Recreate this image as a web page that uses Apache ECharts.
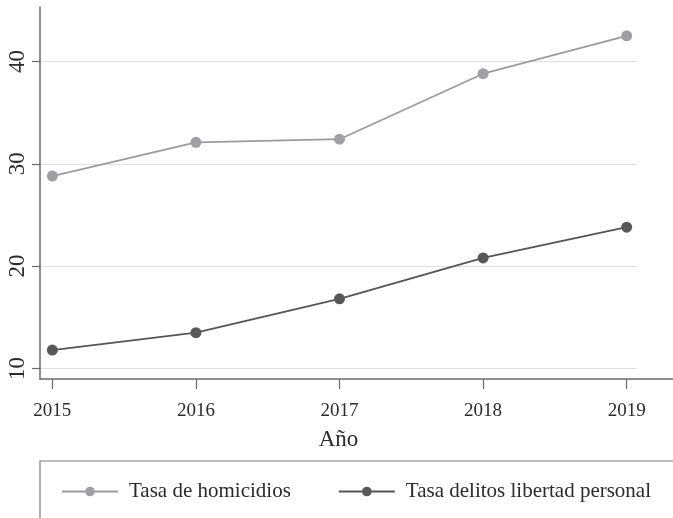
<!DOCTYPE html>
<html>
<head>
<meta charset="utf-8">
<script src="https://cdn.jsdelivr.net/npm/echarts@6/dist/echarts.min.js"></script>
<style>
  html, body { margin: 0; padding: 0; background: #ffffff; }
  #chart { width: 673px; height: 518px; }
</style>
</head>
<body>
<div id="chart"></div>
<script>
// Years on the horizontal axis
const years = [2015, 2016, 2017, 2018, 2019];
// Rates per year
const homicidios = [28.8, 32.1, 32.4, 38.8, 42.5];
const delitosLibertad = [11.8, 13.5, 16.8, 20.8, 23.8];
// Tick values on the vertical axis
const yTicks = [10, 20, 30, 40];

const seriesNames = ['Tasa de homicidios', 'Tasa delitos libertad personal'];
const serif = '"Liberation Serif", "DejaVu Serif", serif';

const pairs = (vals) => years.map((y, i) => [y, vals[i]]);

const chart = echarts.init(document.getElementById('chart'), null, { renderer: 'canvas' });

chart.setOption({
  animation: false,
  backgroundColor: '#ffffff',
  grid: { left: 40, top: 7, right: 36, bottom: 139, containLabel: false },
  xAxis: {
    type: 'value',
    min: 2014.914,
    max: 2019.072,
    name: 'Año',
    nameLocation: 'middle',
    nameGap: 49,
    nameTextStyle: { fontFamily: serif, fontSize: 23, color: '#2b2b2b' },
    axisLine: { show: true, lineStyle: { color: '#6a6a6a', width: 1.5 } },
    axisTick: { show: true, length: 10, customValues: years, lineStyle: { color: '#6a6a6a', width: 1.2 } },
    axisLabel: {
      customValues: years,
      margin: 23,
      fontFamily: serif,
      fontSize: 19,
      color: '#2b2b2b',
      formatter: (v) => String(v)
    },
    splitLine: { show: false }
  },
  yAxis: {
    type: 'value',
    min: 8.97,
    max: 45.32,
    axisLine: { show: true, lineStyle: { color: '#6a6a6a', width: 1.5 } },
    axisTick: { show: true, length: 8, customValues: yTicks, lineStyle: { color: '#6a6a6a', width: 1.2 } },
    axisLabel: {
      customValues: yTicks,
      rotate: 90,
      margin: 11,
      fontFamily: serif,
      fontSize: 23,
      color: '#2b2b2b'
    },
    splitLine: { show: true, lineStyle: { color: '#dedede', width: 1.2 } }
  },
  legend: {
    data: seriesNames,
    left: 56,
    top: 476,
    orient: 'horizontal',
    itemWidth: 56,
    itemHeight: 12,
    itemGap: 47,
    textStyle: { fontFamily: serif, fontSize: 21, color: '#2b2b2b', padding: [0, 0, 0, 6] }
  },
  graphic: [
    {
      type: 'rect',
      silent: true,
      shape: { x: 40, y: 461, width: 700, height: 100 },
      style: { fill: 'none', stroke: '#7d7d7d', lineWidth: 1.2 }
    },
    {
      type: 'line',
      silent: true,
      shape: { x1: 637, y1: 379, x2: 673, y2: 379 },
      style: { stroke: '#6a6a6a', lineWidth: 1.5 }
    }
  ],
  series: [
    {
      name: seriesNames[0],
      type: 'line',
      data: pairs(homicidios),
      symbol: 'circle',
      symbolSize: 11,
      lineStyle: { color: '#9b9b9f', width: 1.8 },
      itemStyle: { color: '#a0a0a4' },
      z: 3
    },
    {
      name: seriesNames[1],
      type: 'line',
      data: pairs(delitosLibertad),
      symbol: 'circle',
      symbolSize: 11,
      lineStyle: { color: '#555558', width: 1.8 },
      itemStyle: { color: '#58585b' },
      z: 3
    }
  ]
});
</script>
</body>
</html>
